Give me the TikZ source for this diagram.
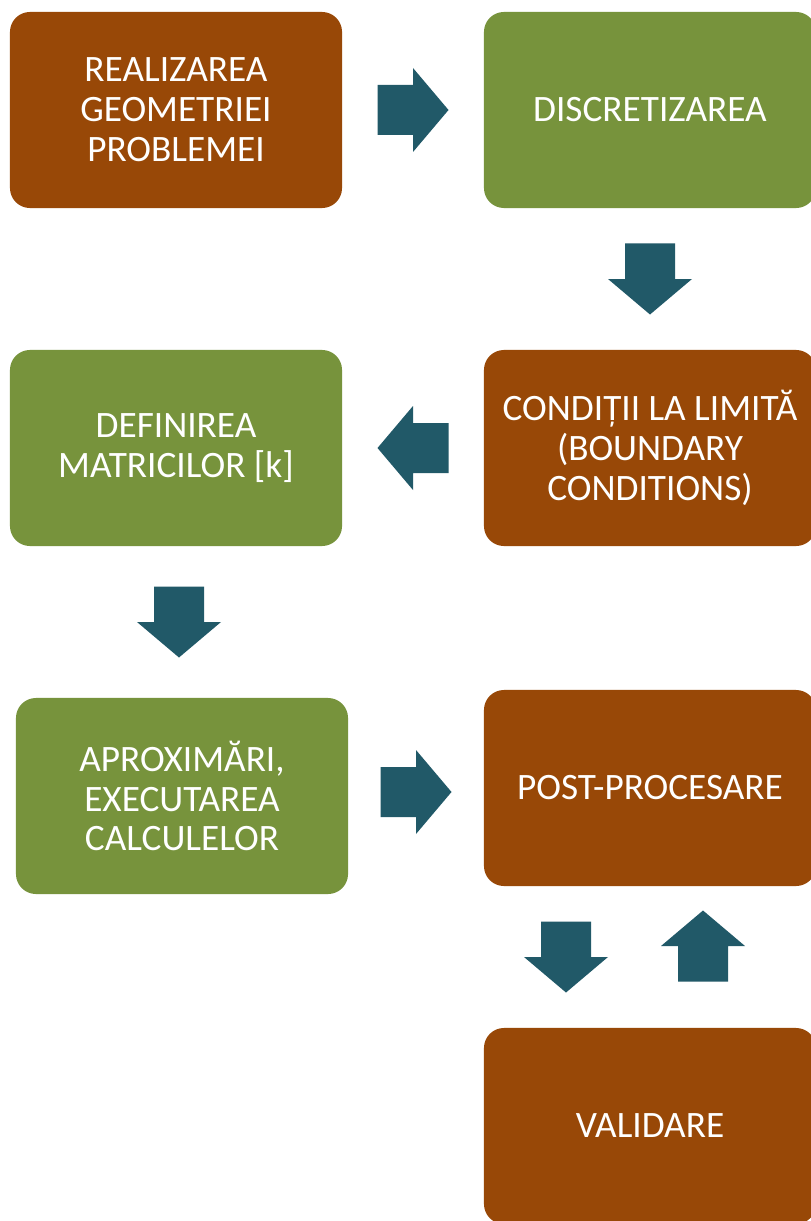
\documentclass[tikz,border=0pt]{standalone}
\usepackage{fontspec}
\setmainfont{Carlito}
\usetikzlibrary{calc}
\definecolor{rust}{HTML}{984807}
\definecolor{olivegreen}{HTML}{77933C}
\definecolor{arrowteal}{HTML}{215968}
\tikzset{
  stagebox/.style={rounded corners=0.5cm, minimum width=8.3cm, minimum height=4.9cm,
    text=white, align=center, font=\fontsize{26.5pt}{28.4pt}\selectfont},
  rustbox/.style={stagebox, fill=rust},
  olivebox/.style={stagebox, fill=olivegreen}
}
% filled block arrow: #1 = angle, #2 = centre
\newcommand\blockarrow[2]{%
  \fill[arrowteal, shift={#2}, rotate=#1] (-35.5,-25) -- (0,-25) -- (0,-42) -- (35.5,0)
    -- (0,42) -- (0,25) -- (-35.5,25) -- cycle;}

\begin{document}
\begin{tikzpicture}[x=0.025cm,y=-0.025cm]
            \useasboundingbox[fill=white] (0,0) rectangle (810,1221);
            \node[rustbox] (geom) at (176,110) {REALIZAREA\\GEOMETRIEI\\PROBLEMEI};
            \node[olivebox] (discr) at (650,110) {DISCRETIZAREA};
            \node[olivebox] (matr) at (176,448) {DEFINIREA\\MATRICILOR [k]};
            \node[rustbox] (cond) at (650,448) {CONDIȚII LA LIMITĂ\\(BOUNDARY\\CONDITIONS)};
            \node[olivebox] (aprox) at (182,796) {APROXIMĂRI,\\EXECUTAREA\\CALCULELOR};
            \node[rustbox] (post) at (650,788) {POST-PROCESARE};
            \node[rustbox] (valid) at (650,1126) {VALIDARE};
            \blockarrow{0}{($(geom.east)!0.5!(discr.west)$)}
            \blockarrow{-90}{($(discr.south)!0.5!(cond.north)$)}
            \blockarrow{180}{($(cond.west)!0.5!(matr.east)$)}
            \blockarrow{-90}{($(matr.south)!0.5!(aprox.north)$)}
            \blockarrow{0}{($(aprox.east)!0.5!(post.west)$)}
            \blockarrow{-90}{($(post.south)!0.5!(valid.north)+(-84,0)$)}
            \blockarrow{90}{($(post.south)!0.5!(valid.north)+(53,-11)$)}
        \end{tikzpicture}
\end{document}
